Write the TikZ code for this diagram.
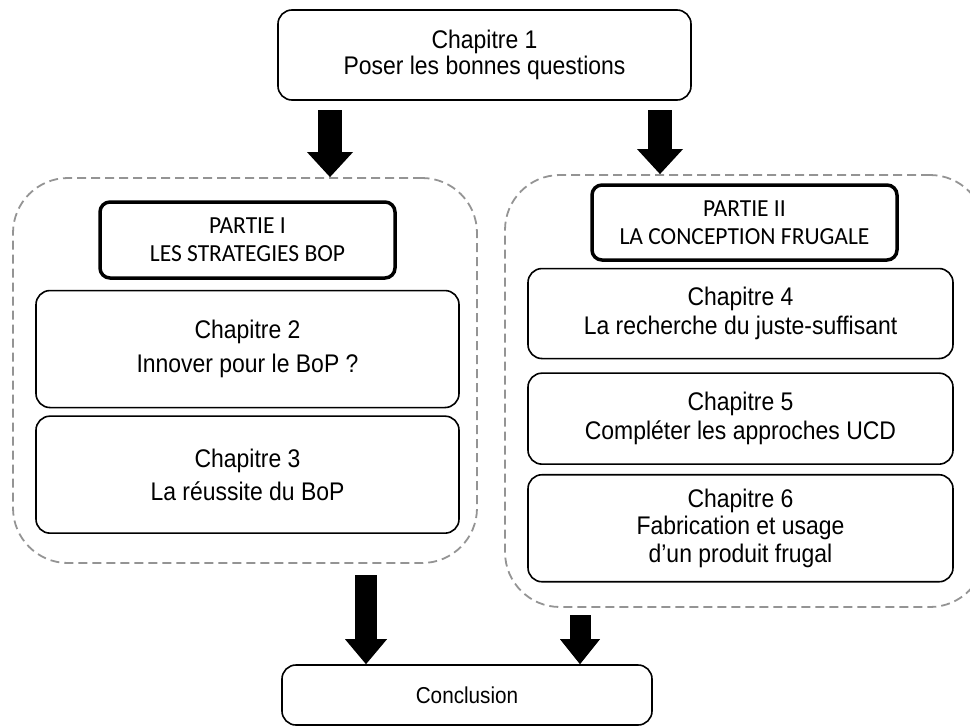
\documentclass[tikz,border=0pt]{standalone}
\usepackage{fontspec}
\setmainfont{Liberation Sans}[FakeStretch=0.9]
\newfontfamily\partiefont{Carlito}[FakeStretch=0.96]
\usetikzlibrary{positioning,arrows.meta}

\begin{document}
\begin{tikzpicture}
[x=1pt, y=-1pt, node distance = 10pt,
chap/.style={draw, line width=1.6pt, rounded corners=14pt, align=center, inner sep=0pt, font=\fontsize{25.5}{28.5}\selectfont},
partie/.style={draw, line width=3.5pt, rounded corners=10pt, align=center, inner sep=0pt, font=\partiefont\fontsize{24.5}{28}\selectfont},
groupe/.style={draw=black!42, dash pattern=on 9pt off 5pt, line width=1.8pt, rounded corners=55pt, inner sep=0pt},
bigarrow/.style={line width=#1, -{Triangle[length=25pt, width=2*#1-2pt, line width=0pt]}}]

\useasboundingbox (0,0) rectangle (970,728);
\clip (0,0) rectangle (970,728);

\node[chap, minimum width=413pt, minimum height=90pt, font=\fontsize{25.5}{25.5}\selectfont] (ch1) at(484.5,55) {Chapitre 1\\Poser les bonnes questions};

% les deux parties
\node[groupe, minimum width=464pt, minimum height=385pt] (grp1) at(245,370.5) {};
\node[groupe, minimum width=480pt, minimum height=432pt] (grp2) at(745,391) {};

\node[partie, minimum width=295pt, minimum height=76pt] (part1) at(247.5,240) {PARTIE I\\LES STRATEGIES BOP};
\node[chap, minimum width=423pt, minimum height=117pt, below =10pt of part1, font=\fontsize{25.5}{34}\selectfont] (ch2) {Chapitre 2\\Innover pour le BoP ?};
\node[chap, minimum width=423pt, minimum height=117pt, below =7pt of ch2, font=\fontsize{25.5}{33}\selectfont] (ch3) {Chapitre 3\\La réussite du BoP};

\node[partie, minimum width=305pt, minimum height=75pt] (part2) at(744.5,222.5) {PARTIE II\\LA CONCEPTION FRUGALE};
\node[chap, minimum width=425pt, minimum height=90pt, below =6pt of part2, xshift=-4pt] (ch4) {Chapitre 4\\La recherche du juste-suffisant};
\node[chap, minimum width=425pt, minimum height=91pt, below =13pt of ch4] (ch5) {Chapitre 5\\Compléter les approches UCD};
\node[chap, minimum width=425pt, minimum height=107pt, below =9pt of ch5, font=\fontsize{25.5}{27.5}\selectfont] (ch6) {Chapitre 6\\Fabrication et usage\\d’un produit frugal};

\node[chap, minimum width=370pt, minimum height=60pt, font=\fontsize{23}{26}\selectfont] (concl) at(467,695) {Conclusion};

\coordinate (a1) at(330,110);
\coordinate (a2) at(660,110);
\coordinate (a3) at(366,575);
\coordinate (a4) at(580,615);
\draw[bigarrow=24pt] (a1) -- (a1 |- grp1.north);
\draw[bigarrow=24pt] (a2) -- (a2 |- grp2.north);
\draw[bigarrow=22pt] (a3) -- (a3 |- concl.north);
\draw[bigarrow=21pt] (a4) -- (a4 |- concl.north);
\end{tikzpicture}
\end{document}
